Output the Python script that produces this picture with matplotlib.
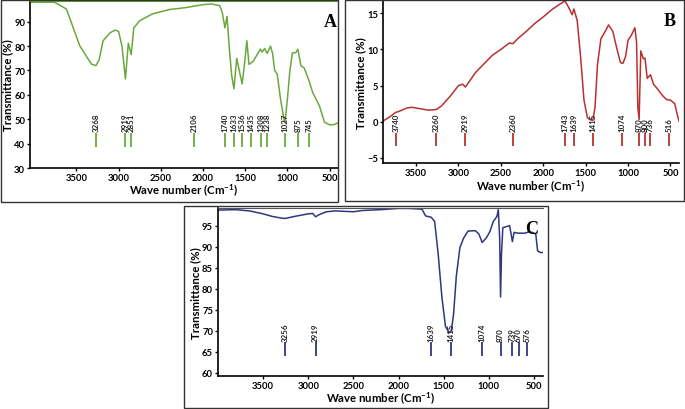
import matplotlib.pyplot as plt
from matplotlib.patches import Rectangle

plt.rcParams['font.family'] = ['Lato', 'DejaVu Sans']
plt.rcParams['font.weight'] = 'bold'
plt.rcParams['mathtext.fontset'] = 'custom'
plt.rcParams['mathtext.rm'] = 'Lato:bold'
plt.rcParams['mathtext.bf'] = 'Lato:bold'

# ---- panel A (green) ----
wa = [4050, 3760, 3618, 3460, 3322, 3268, 3230, 3184, 3100, 3040, 3000, 2960, 2919, 2885, 2851,
      2820, 2750, 2600, 2400, 2200, 2106, 2000, 1900, 1800, 1770, 1740, 1715, 1690, 1660, 1633,
      1600, 1570, 1536, 1510, 1480, 1455, 1435, 1400, 1350, 1320, 1300, 1270, 1238, 1200, 1175,
      1150, 1120, 1080, 1040, 1027, 1000, 970, 940, 900, 875, 840, 800, 745, 700, 620, 560,
      500, 450, 400]
ta = [98.0, 98.0, 95.2, 80.1, 72.6, 72.0, 74.5, 82.2, 85.5, 86.6, 86.0, 80.0, 66.5, 81.2, 76.5,
      87.5, 90.4, 93.2, 95.0, 95.8, 96.4, 97.0, 97.3, 96.6, 93.5, 87.5, 92.2, 80.0, 68.0, 62.5,
      75.0, 70.0, 64.5, 72.0, 82.2, 72.5, 73.0, 74.0, 77.0, 78.8, 77.5, 79.0, 77.0, 80.0, 77.0,
      70.0, 68.5, 58.0, 50.0, 49.0, 58.0, 70.0, 77.2, 77.3, 78.7, 72.0, 71.0, 66.0, 61.0, 55.5, 48.8,
      47.7, 47.8, 48.5]
peaks_a = [3268, 2919, 2851, 2106, 1740, 1633, 1536, 1435, 1308, 1238, 1027, 875, 745]

# ---- panel B (red) ----
wb = [3890, 3807, 3740, 3709, 3610, 3550, 3450, 3350, 3260, 3200, 3100, 3000, 2950, 2919, 2870,
      2800, 2700, 2600, 2500, 2400, 2360, 2300, 2200, 2100, 2000, 1900, 1800, 1743, 1700, 1660,
      1639, 1600, 1560, 1520, 1480, 1450, 1415, 1390, 1360, 1320, 1270, 1230, 1180, 1130, 1090,
      1074, 1060, 1030, 1000, 960, 920, 900, 885, 870, 860, 850, 820, 800, 775, 736, 700, 650,
      600, 550, 516, 500, 450, 420, 400]
tb = [0.1, 0.7, 1.3, 1.4, 1.9, 2.0, 1.8, 1.6, 1.7, 2.2, 3.5, 5.0, 5.2, 4.8, 5.6,
      6.8, 8.0, 9.2, 10.0, 10.9, 10.8, 11.5, 12.5, 13.6, 14.5, 15.5, 16.3, 16.7, 15.8, 14.8,
      15.6, 14.0, 9.0, 3.0, 0.6, 0.3, 0.2, 2.0, 8.0, 11.5, 12.5, 13.4, 12.5, 10.0, 8.2,
      8.1, 8.1, 9.0, 11.3, 12.0, 13.0, 11.0, 2.0, 0.3, 5.0, 9.8, 8.7, 8.8, 6.0, 6.5, 5.2, 4.5,
      3.7, 3.1, 3.0, 3.0, 2.5, 1.0, 0.1]
peaks_b = [3740, 3260, 2919, 2360, 1743, 1639, 1415, 1074, 870, 800, 736, 516]

# ---- panel C (blue) ----
wc = [4000, 3800, 3650, 3500, 3400, 3300, 3256, 3150, 3000, 2950, 2919, 2880, 2800, 2700, 2500,
      2400, 2200, 2000, 1900, 1800, 1740, 1700, 1639, 1600, 1560, 1520, 1480, 1440, 1415, 1390,
      1360, 1320, 1280, 1230, 1150, 1110, 1074, 1030, 990, 950, 910, 895, 880, 870, 860, 845,
      800, 770, 739, 720, 680, 600, 560, 520, 480, 460, 430, 400]
tc = [98.7, 98.8, 98.5, 97.8, 97.2, 96.8, 96.7, 97.2, 97.8, 97.9, 97.1, 97.6, 98.3, 98.5, 98.3,
      98.6, 98.8, 99.1, 99.1, 99.0, 98.9, 97.3, 97.0, 96.0, 88.0, 78.0, 71.0, 69.5, 70.0, 74.0,
      83.0, 89.8, 92.0, 93.7, 93.8, 93.0, 91.0, 92.0, 93.5, 96.0, 97.2, 98.8, 92.0, 78.0, 88.0, 94.5,
      94.8, 95.0, 91.2, 93.4, 93.2, 93.2, 93.5, 93.4, 93.0, 89.0, 88.6, 88.6]
peaks_c = [3256, 2919, 1639, 1415, 1074, 870, 739, 670, 576]

xticks = [3500, 3000, 2500, 2000, 1500, 1000, 500]

fig = plt.figure(figsize=(6.85, 4.10), dpi=100)

# panel frames
for x0, y0, x1, y1 in [(1, 1, 338, 203), (345, 1, 684, 202), (184, 207, 548, 409)]:
    fig.patches.append(Rectangle((x0 / 685, 1 - y1 / 410), (x1 - x0) / 685, (y1 - y0) / 410,
                                 transform=fig.transFigure, fill=False, ec='#333333', lw=1.0))


def panel(rect, w, t, peaks, color, xlim, ylim, yticks, lab_y, line_y, letter, letter_xy, xlab_px):
    ax = fig.add_axes(rect)
    ax.plot(w, t, color=color, lw=1.1)
    ax.vlines(peaks, line_y[0], line_y[1], color=color, lw=1.3)
    for p in peaks:
        ax.text(p, lab_y, str(p), rotation=90, ha='center', va='bottom', fontsize=5.7,
                fontweight='bold', color='#222222')
    ax.set_xlim(xlim)
    ax.set_ylim(ylim)
    ax.set_xticks(xticks)
    ax.set_yticks(yticks)
    ax.tick_params(labelsize=6.8, length=2.5, width=1, pad=1)
    ax.set_xlabel('Wave number (Cm$^{-1}$)', fontsize=8.2, fontweight='bold')
    ax.set_ylabel('Transmittance (%)', fontsize=8.2, fontweight='bold', labelpad=1)
    # x label centre given in pixels below the axes
    ax.xaxis.set_label_coords(0.5, -xlab_px / (rect[3] * 410))
    ax.xaxis.label.set_va('center')
    ax.spines['top'].set_visible(False)
    ax.spines['right'].set_visible(False)
    for s in ['left', 'bottom']:
        ax.spines[s].set_linewidth(1.2)
    ax.text(letter_xy[0], letter_xy[1], letter, transform=ax.transAxes, ha='right', va='top',
            fontsize=13, fontweight='bold', family='Liberation Serif')
    return ax


axA = panel([0.0438, 0.5878, 0.4496, 0.4073], wa, ta, peaks_a, '#6aa83e', (4050, 400),
            (30, 98.5), [30, 40, 50, 60, 70, 80, 90], 45.2, (38.5, 44.2), 'A', (0.995, 0.93), 22)
axA.spines['top'].set_visible(True)
axA.spines['top'].set_color('#6aa83e')

axB = panel([0.5591, 0.6, 0.4321, 0.3951], wb, tb, peaks_b, '#b8312f', (3890, 400),
            (-5.7, 16.7), [-5, 0, 5, 10, 15], -1.3, (-3.3, -1.5), 'B', (0.99, 0.93), 23)

axC = panel([0.3182, 0.0805, 0.4745, 0.4098], wc, tc, peaks_c, '#2f3680', (4000, 400),
            (59.2, 99.2), [60, 65, 70, 75, 80, 85, 90, 95], 67.6, (64.0, 67.3), 'C', (0.985, 0.93), 22)
axC.spines['top'].set_visible(True)
axC.spines['top'].set_color('#555555')

fig.savefig('out.png', dpi=100)
